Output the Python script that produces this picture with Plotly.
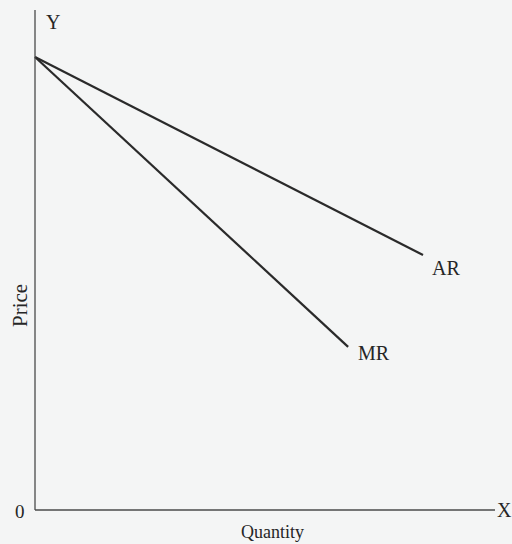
import plotly.graph_objects as go

# Data (arbitrary units)
ar_quantity = [0, 10.0]
ar_price = [10.0, 5.63]
mr_quantity = [0, 8.07]
mr_price = [10.0, 3.6]
curve_labels = ["AR", "MR"]

# pixel scale helpers (origin at pixel (35, 510))
PX_X = 38.8
PX_Y = 45.3
ox, oy = 35, 510
W, H = 512, 544

def dx(px):
    return (px - ox) / PX_X

def dy(py):
    return (oy - py) / PX_Y

bg = "#f4f5f5"
line_col = "#2a2a2a"
axis_col = "#4a4a4a"
font_fam = "Liberation Serif, Times New Roman, serif"

fig = go.Figure()
fig.add_trace(go.Scatter(x=ar_quantity, y=ar_price, mode="lines",
                         line=dict(color=line_col, width=2.2), hoverinfo="skip"))
fig.add_trace(go.Scatter(x=mr_quantity, y=mr_price, mode="lines",
                         line=dict(color=line_col, width=2.2), hoverinfo="skip"))

# axes lines
fig.add_shape(type="line", x0=0, y0=0, x1=0, y1=dy(10), line=dict(color=axis_col, width=1.3))
fig.add_shape(type="line", x0=0, y0=0, x1=dx(495), y1=0, line=dict(color=axis_col, width=1.3))

tc = "#262626"
ann = [
    dict(x=dx(446), y=dy(268), text=curve_labels[0], size=20),
    dict(x=dx(374), y=dy(353), text=curve_labels[1], size=20),
    dict(x=dx(53), y=dy(22), text="Y", size=20),
    dict(x=dx(504), y=dy(510), text="X", size=20),
    dict(x=dx(20), y=dy(511), text="0", size=19),
    dict(x=dx(272), y=dy(532), text="Quantity", size=18),
]
for a in ann:
    fig.add_annotation(x=a["x"], y=a["y"], text=a["text"], showarrow=False,
                       xref="x", yref="y", xanchor="center", yanchor="middle",
                       font=dict(family=font_fam, size=a["size"], color=tc))
fig.add_annotation(x=dx(20), y=dy(306), text="Price", showarrow=False, textangle=-90,
                   xref="x", yref="y", xanchor="center", yanchor="middle",
                   font=dict(family=font_fam, size=21, color=tc))

fig.update_layout(
    width=W, height=H,
    margin=dict(l=0, r=0, t=0, b=0),
    paper_bgcolor=bg, plot_bgcolor=bg,
    showlegend=False,
    xaxis=dict(range=[dx(0), dx(W)], visible=False, fixedrange=True),
    yaxis=dict(range=[dy(H), dy(0)], visible=False, fixedrange=True),
)

fig.write_html("out.html", config={"displayModeBar": False},
               post_script="document.body.style.margin='0';document.body.style.background='%s';" % bg)
